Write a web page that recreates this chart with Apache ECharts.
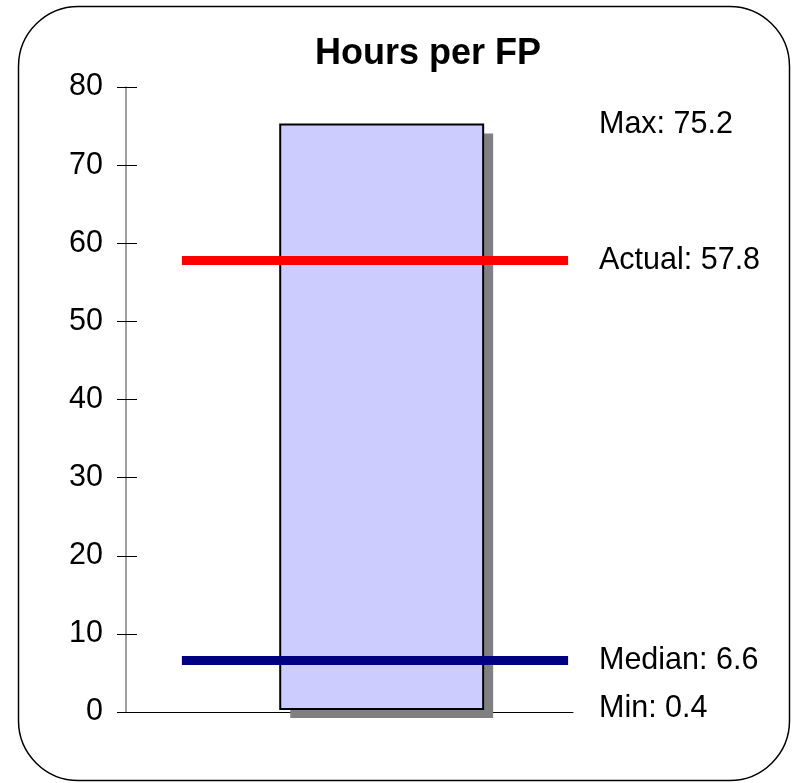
<!DOCTYPE html>
<html>
<head>
<meta charset="utf-8">
<title>Hours per FP</title>
<script src="https://cdn.jsdelivr.net/npm/echarts@6/dist/echarts.min.js"></script>
<style>
  html, body { margin: 0; padding: 0; background: #ffffff; }
  #chart { width: 792px; height: 783px; }
</style>
</head>
<body>
<div id="chart"></div>
<script>
// Summary statistics for hours per function point
const chartTitle = 'Hours per FP';
const statNames = ['Max', 'Actual', 'Median', 'Min'];
const statValues = [75.2, 57.8, 6.6, 0.4];
const yTicks = [0, 10, 20, 30, 40, 50, 60, 70, 80];

// Reference lines drawn across the range bar
const lineNames = ['Actual', 'Median'];
const lineColors = ['#FF0000', '#000080'];

const FONT = "'Liberation Sans', Arial, Helvetica, sans-serif";
const statOf = name => statValues[statNames.indexOf(name)];

// Range bar spans from the minimum to the maximum
const rangeData = [[statOf('Min'), statOf('Max')]];
const lineData = lineNames.map((n, i) => [statOf(n), i]);
const labelData = statNames.map((n, i) => [statValues[i], i]);

const BAR_FROM = 0.345, BAR_TO = 0.799;   // horizontal share of the plot
const LINE_FROM = 0.125, LINE_TO = 0.989;

const chart = echarts.init(document.getElementById('chart'), null, { renderer: 'canvas' });

const yMin = yTicks[0], yMax = yTicks[yTicks.length - 1], yStep = yTicks[1] - yTicks[0];

chart.setOption({
  animation: false,
  backgroundColor: '#ffffff',
  title: {
    text: chartTitle,
    left: 310,
    top: 31,
    textStyle: { fontFamily: FONT, fontSize: 36, fontWeight: 'bold', color: '#000000' }
  },
  grid: { left: 126, right: 219, top: 87, bottom: 71, containLabel: false },
  xAxis: {
    type: 'value', min: 0, max: 1,
    axisLine: { show: true, onZero: false, lineStyle: { color: '#000000', width: 1 } },
    axisTick: { show: false }, axisLabel: { show: false }, splitLine: { show: false }
  },
  yAxis: [
    {
      type: 'value', min: yMin, max: yMax, interval: yStep,
      axisLine: { show: true, lineStyle: { color: '#808080', width: 1.5 } },
      axisTick: { show: true, inside: false, length: 9, lineStyle: { color: '#000000', width: 1 } },
      axisLabel: { show: true, margin: 23, fontFamily: FONT, fontSize: 30.5, color: '#000000' },
      splitLine: { show: false }
    },
    {
      type: 'value', min: yMin, max: yMax, interval: yStep, position: 'left',
      axisLine: { show: false },
      axisTick: { show: true, inside: true, length: 11, lineStyle: { color: '#000000', width: 1 } },
      axisLabel: { show: false },
      splitLine: { show: false }
    }
  ],
  graphic: [{
    type: 'rect',
    shape: { x: 18.5, y: 6.5, width: 771, height: 774, r: 60 },
    style: { fill: 'none', stroke: '#000000', lineWidth: 1.5 },
    silent: true, z: 100
  }],
  series: [
    {
      type: 'custom',
      name: 'Range',
      data: rangeData,
      z: 2,
      renderItem: function (params, api) {
        const lo = api.coord([BAR_FROM, api.value(0)]);
        const hi = api.coord([BAR_TO, api.value(1)]);
        const x = lo[0], y = hi[1], w = hi[0] - lo[0], h = lo[1] - hi[1];
        return {
          type: 'group',
          children: [
            { type: 'rect', shape: { x: x + 10, y: y + 9, width: w, height: h },
              style: { fill: '#808080' } },
            { type: 'rect', shape: { x: x, y: y, width: w, height: h },
              style: { fill: '#CCCCFF', stroke: '#000000', lineWidth: 2 } }
          ]
        };
      }
    },
    {
      type: 'custom',
      name: 'Lines',
      data: lineData,
      z: 3,
      renderItem: function (params, api) {
        const a = api.coord([LINE_FROM, api.value(0)]);
        const b = api.coord([LINE_TO, api.value(0)]);
        return {
          type: 'line',
          shape: { x1: a[0], y1: a[1], x2: b[0], y2: b[1] },
          style: { stroke: lineColors[api.value(1)], lineWidth: 9 }
        };
      }
    },
    {
      type: 'custom',
      name: 'Labels',
      data: labelData,
      z: 4,
      renderItem: function (params, api) {
        const p = api.coord([1, api.value(0)]);
        const i = api.value(1);
        return {
          type: 'text',
          x: p[0] + 26,
          y: p[1],
          style: {
            text: statNames[i] + ': ' + statValues[i],
            fontFamily: FONT, fontSize: 30.5, fill: '#000000',
            align: 'left', verticalAlign: 'middle'
          }
        };
      }
    }
  ]
});
</script>
</body>
</html>
